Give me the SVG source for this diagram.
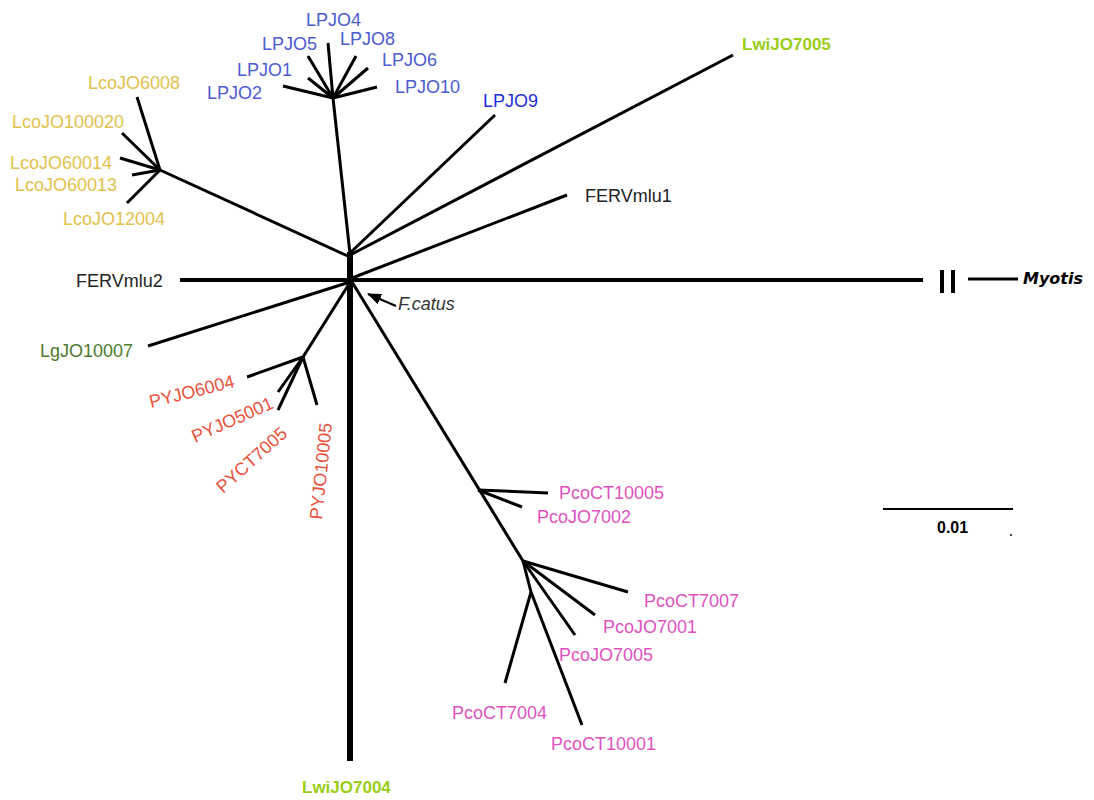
<svg xmlns="http://www.w3.org/2000/svg" width="1094" height="800" viewBox="0 0 1094 800">
  <style>
    .br { stroke: #000; stroke-width: 3; fill: none; stroke-linecap: butt; }
    .lb { font-family: "Liberation Sans", Arial, sans-serif; font-size: 18px; }
    .bold { font-family: "Liberation Sans", Arial, sans-serif; font-size: 17px; font-weight: bold; }
    .lp { fill: #4b5ccf; }
    .lco { fill: #e2c24c; }
    .py { fill: #e8523c; }
    .pco { fill: #de52c0; }
    .lg { fill: #4e7a2c; }
    .lwi { fill: #9acd16; }
    .fe { fill: #222; }
  </style>
  <defs>
    <marker id="ah" markerWidth="14" markerHeight="11" refX="13" refY="5.5" orient="auto" markerUnits="userSpaceOnUse">
      <path d="M0,0 L14,5.5 L0,11 Z" fill="#000"/>
    </marker>
  </defs>
  <rect width="1094" height="800" fill="#fff"/>

  <!-- tree branches -->
  <g id="connectors">
    <!-- backbone -->
    <line x1="180" y1="280" x2="923" y2="280" stroke="#000" stroke-width="4"/>
    <line x1="350" y1="252" x2="350" y2="761" stroke="#000" stroke-width="6"/>
    <!-- break marks and outgroup -->
    <line x1="942" y1="270" x2="942" y2="293" stroke="#000" stroke-width="4"/>
    <line x1="953" y1="270" x2="953" y2="293" stroke="#000" stroke-width="4"/>
    <line x1="968" y1="279" x2="1018" y2="279" stroke="#000" stroke-width="3"/>

    <!-- LPJO clade -->
    <line class="br" x1="350" y1="254" x2="333" y2="98"/>
    <line class="br" x1="333" y1="98" x2="328" y2="43"/>
    <line class="br" x1="333" y1="98" x2="308" y2="56"/>
    <line class="br" x1="333" y1="98" x2="308" y2="78"/>
    <line class="br" x1="333" y1="98" x2="283" y2="86"/>
    <line class="br" x1="333" y1="98" x2="356" y2="56"/>
    <line class="br" x1="333" y1="98" x2="368" y2="68"/>
    <line class="br" x1="333" y1="98" x2="377" y2="87"/>
    <line class="br" x1="350" y1="253" x2="495" y2="115"/>
    <line class="br" x1="350" y1="255" x2="733" y2="55"/>

    <!-- Lco clade -->
    <line class="br" x1="350" y1="257" x2="160" y2="170"/>
    <line class="br" x1="160" y1="170" x2="137" y2="97"/>
    <line class="br" x1="160" y1="170" x2="122" y2="133"/>
    <line class="br" x1="160" y1="170" x2="120" y2="158"/>
    <line class="br" x1="160" y1="170" x2="132" y2="175"/>
    <line class="br" x1="160" y1="170" x2="127" y2="203"/>

    <!-- FERVmlu1, LgJO10007 -->
    <line class="br" x1="352" y1="278" x2="567" y2="195"/>
    <line class="br" x1="350" y1="282" x2="148" y2="346"/>

    <!-- PY clade -->
    <line class="br" x1="349" y1="284" x2="303" y2="357"/>
    <line class="br" x1="303" y1="357" x2="247" y2="377"/>
    <line class="br" x1="303" y1="357" x2="278" y2="392"/>
    <line class="br" x1="303" y1="357" x2="278" y2="410"/>
    <line class="br" x1="303" y1="357" x2="317" y2="405"/>

    <!-- Pco clade -->
    <line class="br" x1="352" y1="282" x2="523" y2="561"/>
    <line class="br" x1="478" y1="490" x2="548" y2="493"/>
    <line class="br" x1="478" y1="490" x2="522" y2="507"/>
    <line class="br" x1="523" y1="561" x2="628" y2="592"/>
    <line class="br" x1="523" y1="561" x2="595" y2="615"/>
    <line class="br" x1="523" y1="561" x2="575" y2="635"/>
    <line class="br" x1="523" y1="561" x2="531" y2="592"/>
    <line class="br" x1="531" y1="592" x2="582" y2="725"/>
    <line class="br" x1="531" y1="592" x2="505" y2="683"/>

    <!-- F.catus pointer -->
    <line x1="396" y1="306" x2="368" y2="294" stroke="#000" stroke-width="2" marker-end="url(#ah)"/>

    <!-- scale bar -->
    <line x1="883" y1="509" x2="1013" y2="509" stroke="#000" stroke-width="2"/>
    <rect x="1010" y="534" width="2" height="2" fill="#444"/>
  </g>

  <g id="lpjo">
    <text class="lb lp" x="306" y="26">LPJO4</text>
    <text class="lb lp" x="262" y="50">LPJO5</text>
    <text class="lb lp" x="340" y="45">LPJO8</text>
    <text class="lb lp" x="237" y="76">LPJO1</text>
    <text class="lb lp" x="207" y="99">LPJO2</text>
    <text class="lb lp" x="382" y="66">LPJO6</text>
    <text class="lb lp" x="395" y="93">LPJO10</text>
    <text class="lb" x="483" y="107" fill="#1c2fd6">LPJO9</text>
  </g>

  <g id="lwi">
    <text class="bold lwi" x="742" y="50">LwiJO7005</text>
    <text class="bold lwi" x="302" y="793">LwiJO7004</text>
  </g>

  <g id="lco">
    <text class="lb lco" x="88" y="89">LcoJO6008</text>
    <text class="lb lco" x="12" y="128">LcoJO100020</text>
    <text class="lb lco" x="10" y="169">LcoJO60014</text>
    <text class="lb lco" x="15" y="191">LcoJO60013</text>
    <text class="lb lco" x="63" y="225">LcoJO12004</text>
  </g>

  <g id="ferv">
    <text class="lb fe" x="585" y="202">FERVmlu1</text>
    <text class="lb fe" x="76" y="287">FERVmlu2</text>
  </g>

  <g id="myotis">
    <text x="1023" y="284" font-family="'DejaVu Sans', Verdana, sans-serif" font-size="16" font-weight="bold" font-style="italic" fill="#000">Myotis</text>
  </g>

  <g id="fcatus">
    <text class="lb" x="398" y="310" font-style="italic" fill="#333">F.catus</text>
  </g>

  <g id="lg">
    <text class="lb lg" x="40" y="357">LgJO10007</text>
  </g>

  <g id="py">
    <text class="lb py" transform="translate(151,408) rotate(-14)">PYJO6004</text>
    <text class="lb py" transform="translate(195,443) rotate(-24)">PYJO5001</text>
    <text class="lb py" transform="translate(223,494) rotate(-42)">PYCT7005</text>
    <text class="lb py" transform="translate(322,520) rotate(-84)">PYJO10005</text>
  </g>

  <g id="pco">
    <text class="lb pco" x="559" y="499">PcoCT10005</text>
    <text class="lb pco" x="537" y="523">PcoJO7002</text>
    <text class="lb pco" x="644" y="607">PcoCT7007</text>
    <text class="lb pco" x="603" y="633">PcoJO7001</text>
    <text class="lb pco" x="559" y="661">PcoJO7005</text>
    <text class="lb pco" x="452" y="719">PcoCT7004</text>
    <text class="lb pco" x="551" y="750">PcoCT10001</text>
  </g>

  <g id="scale">
    <text x="937" y="533" font-family="'Liberation Sans', Arial, sans-serif" font-size="16" font-weight="bold" fill="#000">0.01</text>
  </g>
</svg>
